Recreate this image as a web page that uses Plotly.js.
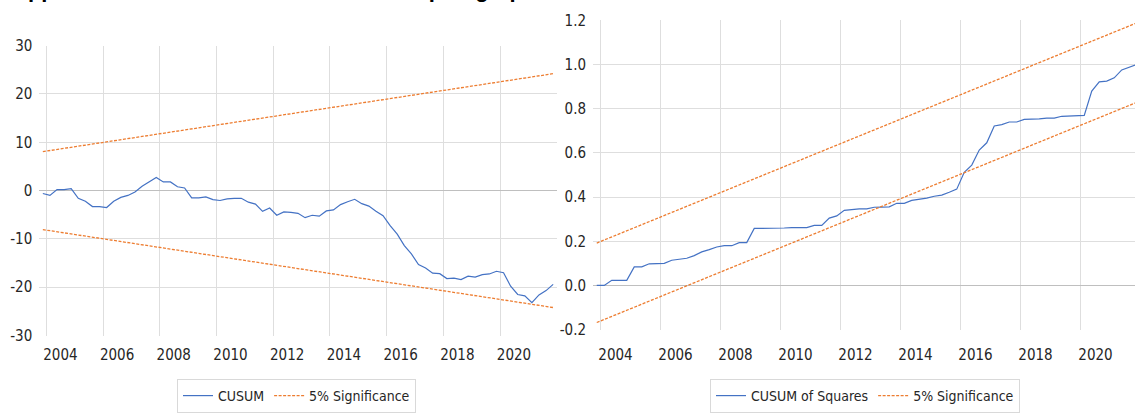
<!DOCTYPE html>
<html>
<head>
<meta charset="utf-8">
<script src="https://cdn.plot.ly/plotly-3.0.1.min.js"></script>
<style>html,body{margin:0;padding:0;background:#fff;}#chart{width:1135px;height:413px;}</style>
</head>
<body>
<div id="chart"></div>
<script>
// Quarterly observations: first point is 2003 Q4 (plotted at the centre of the quarter)
const firstQuarterCentre = 2003.875;
const quarterStep = 0.25;

// CUSUM statistic (left panel), one value per quarter, 2003Q4 .. 2021Q4
const cusum = [
  -0.6, -1.0, 0.2, 0.2, 0.4, -1.6, -2.2, -3.3, -3.3, -3.5,
  -2.2, -1.4, -1.0, -0.3, 0.9, 1.8, 2.7, 1.8, 1.8, 0.8,
  0.55, -1.5, -1.5, -1.3, -1.85, -2.05, -1.7, -1.6, -1.6, -2.4,
  -2.8, -4.3, -3.6, -5.1, -4.4, -4.5, -4.7, -5.6, -5.1, -5.3,
  -4.2, -4.0, -2.9, -2.3, -1.8, -2.7, -3.2, -4.25, -5.2, -7.25,
  -9.0, -11.4, -13.1, -15.3, -16.0, -17.1, -17.2, -18.2, -18.1, -18.4,
  -17.7, -17.9, -17.4, -17.25, -16.7, -17.0, -19.8, -21.5, -21.8, -23.2,
  -21.6, -20.7, -19.4
];

// CUSUM of squares statistic (right panel)
const cusumSq = [
  0.000, 0.000, 0.023, 0.023, 0.023, 0.084, 0.084, 0.098, 0.098, 0.100,
  0.114, 0.119, 0.123, 0.135, 0.152, 0.162, 0.174, 0.180, 0.180, 0.194,
  0.194, 0.258, 0.258, 0.258, 0.258, 0.260, 0.262, 0.262, 0.262, 0.272,
  0.272, 0.305, 0.315, 0.340, 0.345, 0.347, 0.347, 0.354, 0.355, 0.356,
  0.372, 0.372, 0.385, 0.389, 0.395, 0.404, 0.409, 0.422, 0.436, 0.512,
  0.545, 0.613, 0.646, 0.722, 0.728, 0.740, 0.740, 0.752, 0.752, 0.754,
  0.758, 0.758, 0.766, 0.767, 0.770, 0.770, 0.880, 0.922, 0.925, 0.940,
  0.976, 0.988, 1.000
];

// 5% significance bounds: straight lines, values read at first and last quarter
const cusumUpper = [8.07, 24.2];
const cusumLower = [-8.07, -24.2];
const sqUpper = [0.192, 1.189];
const sqLower = [-0.168, 0.829];

// Axis labels
const yearTicks = [2004, 2006, 2008, 2010, 2012, 2014, 2016, 2018, 2020];
const yearLabels = ['2004', '2006', '2008', '2010', '2012', '2014', '2016', '2018', '2020'];
const cusumTicks = [-30, -20, -10, 0, 10, 20, 30];
const cusumTickLabels = ['-30', '-20', '-10', '0', '10', '20', '30'];
const sqTicks = [-0.2, 0, 0.2, 0.4, 0.6, 0.8, 1.0, 1.2];
const sqTickLabels = ['-0.2', '0.0', '0.2', '0.4', '0.6', '0.8', '1.0', '1.2'];

const titleText = 'Appendix 4: CUSUM and CUSUM of the plot graphs';

const quarterX = cusum.map((_, i) => firstQuarterCentre + i * quarterStep);
const boundX = [quarterX[0], quarterX[quarterX.length - 1]];

const BLUE = '#4472C4';
const ORANGE = '#ED7D31';
const FONT = '"DejaVu Sans Condensed", "Liberation Sans Narrow", sans-serif';
const GRID = '#dedede';

const traces = [
  {x: quarterX, y: cusum, type: 'scatter', mode: 'lines', name: 'CUSUM',
   line: {color: BLUE, width: 1.2}, xaxis: 'x', yaxis: 'y', legend: 'legend'},
  {x: boundX, y: cusumUpper, type: 'scatter', mode: 'lines', name: '5% Significance',
   line: {color: ORANGE, width: 1.3, dash: '3px,1.5px'}, xaxis: 'x', yaxis: 'y', legend: 'legend'},
  {x: boundX, y: cusumLower, type: 'scatter', mode: 'lines', name: '5% Significance', showlegend: false,
   line: {color: ORANGE, width: 1.3, dash: '3px,1.5px'}, xaxis: 'x', yaxis: 'y', legend: 'legend'},
  {x: quarterX, y: cusumSq, type: 'scatter', mode: 'lines', name: 'CUSUM of Squares',
   line: {color: BLUE, width: 1.2}, xaxis: 'x2', yaxis: 'y2', legend: 'legend2'},
  {x: boundX, y: sqUpper, type: 'scatter', mode: 'lines', name: '5% Significance',
   line: {color: ORANGE, width: 1.3, dash: '3px,1.5px'}, xaxis: 'x2', yaxis: 'y2', legend: 'legend2'},
  {x: boundX, y: sqLower, type: 'scatter', mode: 'lines', name: '5% Significance', showlegend: false,
   line: {color: ORANGE, width: 1.3, dash: '3px,1.5px'}, xaxis: 'x2', yaxis: 'y2', legend: 'legend2'}
];

const W = 1135, H = 413;
const xAxisCommon = {
  tickmode: 'array', tickvals: yearTicks, ticktext: yearLabels,
  showgrid: true, gridcolor: GRID, gridwidth: 1, zeroline: false, showline: false,
  ticks: '', ticklabelshift: 14, fixedrange: true,
  tickfont: {family: FONT, size: 15, color: '#262626'}
};
const yAxisCommon = {
  tickmode: 'array', showgrid: true, gridcolor: GRID, gridwidth: 1,
  zeroline: true, zerolinecolor: '#bfbfbf', zerolinewidth: 1.5, showline: false,
  ticks: '', ticklabelstandoff: 6, fixedrange: true,
  tickfont: {family: FONT, size: 15, color: '#262626'}
};

const layout = {
  width: W, height: H,
  margin: {l: 0, r: 0, t: 0, b: 0},
  paper_bgcolor: '#ffffff', plot_bgcolor: '#ffffff',
  font: {family: FONT, size: 15, color: '#262626'},
  showlegend: true,
  xaxis: Object.assign({}, xAxisCommon, {
    domain: [39.3 / W, 556.7 / W], range: [2003.75, 2022.0], anchor: 'y',
    ticklabelstandoff: 8
  }),
  yaxis: Object.assign({}, yAxisCommon, {
    domain: [1 - 338 / H, 1 - 46 / H], range: [-30, 30],
    tickvals: cusumTicks, ticktext: cusumTickLabels, anchor: 'x'
  }),
  xaxis2: Object.assign({}, xAxisCommon, {
    domain: [593 / W, 1], range: [2003.75, 2003.75 + (1135 - 593) / 30], anchor: 'y2',
    ticklabelstandoff: 14, ticklabelshift: 15
  }),
  yaxis2: Object.assign({}, yAxisCommon, {
    domain: [1 - 332 / H, 1 - 20.6 / H], range: [-0.2, 1.2],
    tickvals: sqTicks, ticktext: sqTickLabels, anchor: 'x2'
  }),
  legend: {
    x: 296.5 / W, xanchor: 'center', y: 1 - 382 / H, yanchor: 'top',
    orientation: 'h', bordercolor: '#d9d9d9', borderwidth: 1, bgcolor: '#ffffff',
    font: {family: FONT, size: 14, color: '#262626'}, itemwidth: 30, traceorder: 'normal'
  },
  legend2: {
    x: 865 / W, xanchor: 'center', y: 1 - 382 / H, yanchor: 'top',
    orientation: 'h', bordercolor: '#d9d9d9', borderwidth: 1, bgcolor: '#ffffff',
    font: {family: FONT, size: 14, color: '#262626'}, itemwidth: 30, traceorder: 'normal'
  },
  annotations: [{
    text: '<b>' + titleText + '</b>', xref: 'paper', yref: 'paper',
    x: 10 / W, y: 1, xanchor: 'left', yanchor: 'bottom', yshift: -4,
    showarrow: false, font: {family: 'Liberation Sans, Arial, sans-serif', size: 22, color: '#000000'}
  }]
};

Plotly.newPlot('chart', traces, layout, {displayModeBar: false, staticPlot: true});
</script>
</body>
</html>
